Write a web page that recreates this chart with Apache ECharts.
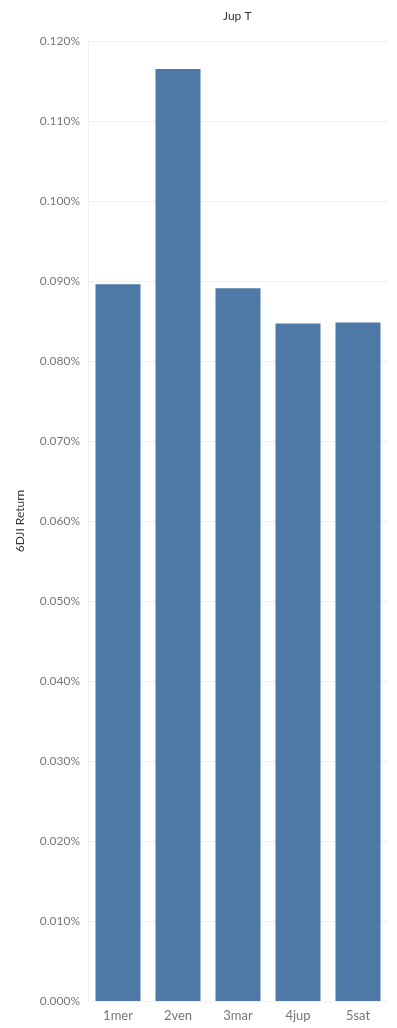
<!DOCTYPE html>
<html>
<head>
<meta charset="utf-8">
<script src="https://cdn.jsdelivr.net/npm/echarts@6/dist/echarts.min.js"></script>
<style>
  html, body { margin: 0; padding: 0; background: #fff; }
  #chart { width: 397px; height: 1028px; }
</style>
</head>
<body>
<div id="chart"></div>
<script>
// values in percent
const categories = ['1mer', '2ven', '3mar', '4jup', '5sat'];
const returns = [0.0896, 0.1165, 0.0891, 0.0847, 0.0848];

const chart = echarts.init(document.getElementById('chart'));
const font = 'Lato, "Open Sans", sans-serif';

chart.setOption({
  backgroundColor: '#fff',
  animation: false,
  title: {
    text: 'Jup T',
    left: 218,
    top: 5,
    textStyle: { fontFamily: font, fontSize: 12, fontWeight: 'normal', color: '#333' }
  },
  grid: { left: 88, right: 9, top: 41, bottom: 27 },
  xAxis: {
    type: 'category',
    data: categories,
    axisLine: { show: true, lineStyle: { color: '#f0f0f0' } },
    axisTick: { show: false },
    axisLabel: { fontFamily: font, fontSize: 13, color: '#777', margin: 8 }
  },
  yAxis: {
    type: 'value',
    min: 0,
    max: 0.12,
    interval: 0.01,
    name: '6DJI Return',
    nameLocation: 'middle',
    nameGap: 62,
    nameTextStyle: { fontFamily: font, fontSize: 12, color: '#333' },
    axisLine: { show: true, lineStyle: { color: '#f0f0f0' } },
    axisTick: { show: false },
    splitLine: { lineStyle: { color: '#f0f0f0' } },
    axisLabel: {
      fontFamily: font, fontSize: 12, color: '#777', margin: 8,
      formatter: v => v.toFixed(3) + '%'
    }
  },
  series: [{
    type: 'bar',
    data: returns,
    barWidth: 45,
    itemStyle: { color: '#4e79a7' }
  }]
});
</script>
</body>
</html>
